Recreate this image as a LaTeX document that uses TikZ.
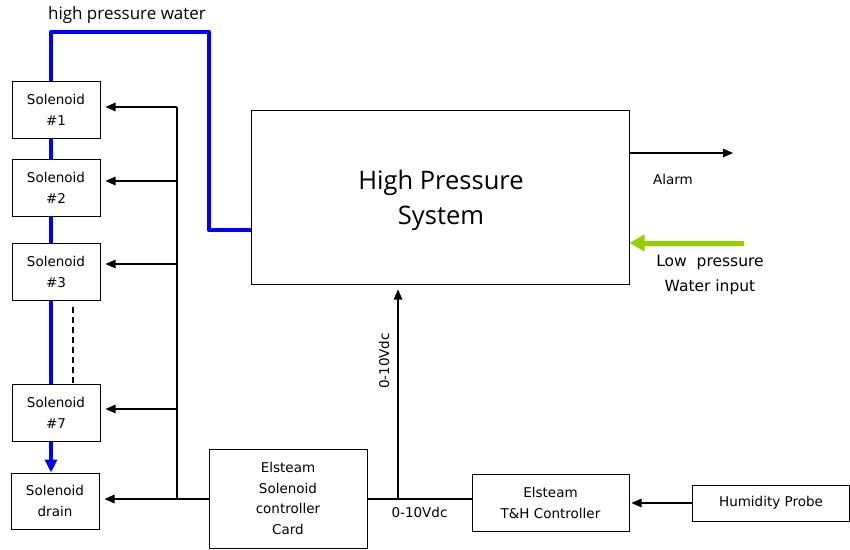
\documentclass[tikz,border=0pt]{standalone}
\usepackage{fontspec}
\setmainfont{DejaVu Sans}
\newfontfamily\osans{Open Sans}
\usetikzlibrary{arrows.meta,calc}
\definecolor{pipeblue}{RGB}{0,0,255}
\definecolor{lpgreen}{RGB}{146,208,0}
\begin{document}
\begin{tikzpicture}[x=1pt,y=-1pt,
  box/.style={draw=black,line width=1pt,fill=white,inner sep=0pt,align=center,
    font=\fontsize{13.5}{21}\selectfont},
  sol/.style={box,minimum width=88pt,minimum height=57pt},
  sig/.style={line width=1.4pt,-{Triangle[length=10pt,width=8.5pt]}},
  gap/.style={shorten >=5pt},
  wire/.style={line width=1.2pt},
  pipe/.style={pipeblue,line width=4pt},
  lbl/.style={inner sep=0pt,font=\fontsize{13.5}{21}\selectfont,align=center}]
\useasboundingbox (0,0) rectangle (850,549);
% boxes
\node[sol] (s1) at (56,110) {Solenoid\\\#1};
\node[sol] (s2) at (56,187.5) {Solenoid\\\#2};
\node[sol] (s3) at (56,271.5) {Solenoid\\\#3};
\node[sol] (s7) at (56,412.5) {Solenoid\\\#7};
\node[sol,minimum height=56pt] (sd) at (55,501) {Solenoid\\drain};
\node[box,minimum width=378pt,minimum height=174pt] (hp) at (440,197) {};
\node[lbl,font=\osans\fontsize{25.5}{35}\selectfont] (hpt) at (441,200) {High Pressure\\System};
\node[box,minimum width=158pt,minimum height=99pt,font=\fontsize{13.5}{20.7}\selectfont] (card) at (288,498.5) {Elsteam\\Solenoid\\controller\\Card};
\node[box,minimum width=157pt,minimum height=57pt] (th) at (550.5,502.5) {Elsteam\\T\&H Controller};
\node[box,minimum width=157pt,minimum height=36pt] (probe) at (771,503) {Humidity Probe};
% blue pipe
\coordinate (p1) at (51,32);
\coordinate (p2) at (209,32);
\coordinate (p3) at (209,230);
\draw[pipe,line join=round] (s1.north -| p1) -- (p1) -- (p2) -- (p3) -- (p3 -| hp.west);
\draw[pipe] (s1.south -| p1) -- (s2.north -| p1);
\draw[pipe] (s2.south -| p1) -- (s3.north -| p1);
\draw[pipe] (s3.south -| p1) -- (s7.north -| p1);
\draw[pipeblue,line width=4pt,-{Triangle[length=13pt,width=12pt]}] (s7.south -| p1) -- (sd.north -| p1);
% dashed continuation
\coordinate (dtop) at (73,307);
\draw[line width=2pt,dash pattern=on 6pt off 4pt] (dtop) -- (s7.north -| dtop);
% bus
\coordinate (btop) at (177,107);
\coordinate (bbot) at (177,499);
\draw[wire] (btop) -- (bbot);
\coordinate (b2) at (177,181);
\coordinate (b3) at (177,264);
\coordinate (b7) at (177,409);
\draw[sig,gap] (btop) -- (btop -| s1.east);
\draw[sig,gap] (b2) -- (b2 -| s2.east);
\draw[sig,gap] (b3) -- (b3 -| s3.east);
\draw[sig,gap] (b7) -- (b7 -| s7.east);
\draw[sig,gap] (bbot -| card.west) -- (bbot -| sd.east);
% 0-10Vdc
\coordinate (j) at (398,499);
\draw[wire] (j -| card.east) -- (j -| th.west);
\draw[sig,gap] (j) -- (j |- hp.south);
\node[lbl,rotate=90] (v1) at (384,361) {0-10Vdc};
\node[lbl] (v2) at (419.5,512) {0-10Vdc};
% probe to T&H
\draw[sig,shorten >=2pt] (probe.west) -- (probe.west -| th.east);
% alarm
\coordinate (al) at (733,153);
\draw[sig] (al -| hp.east) -- (al);
\node[lbl] (alarm) at (673,179) {Alarm};
% low pressure input
\coordinate (lp) at (744,243);
\draw[lpgreen,line width=5pt,-{Triangle[length=15pt,width=16pt]}] (lp) -- (lp -| hp.east);
\node[lbl,font=\fontsize{15.5}{25}\selectfont] (lpt) at (710,275) {Low\ \ pressure\\Water input};
% top label
\node[lbl,font=\osans\fontsize{17}{20}\selectfont] (hpw) at (127,15) {high pressure water};
\end{tikzpicture}
\end{document}
